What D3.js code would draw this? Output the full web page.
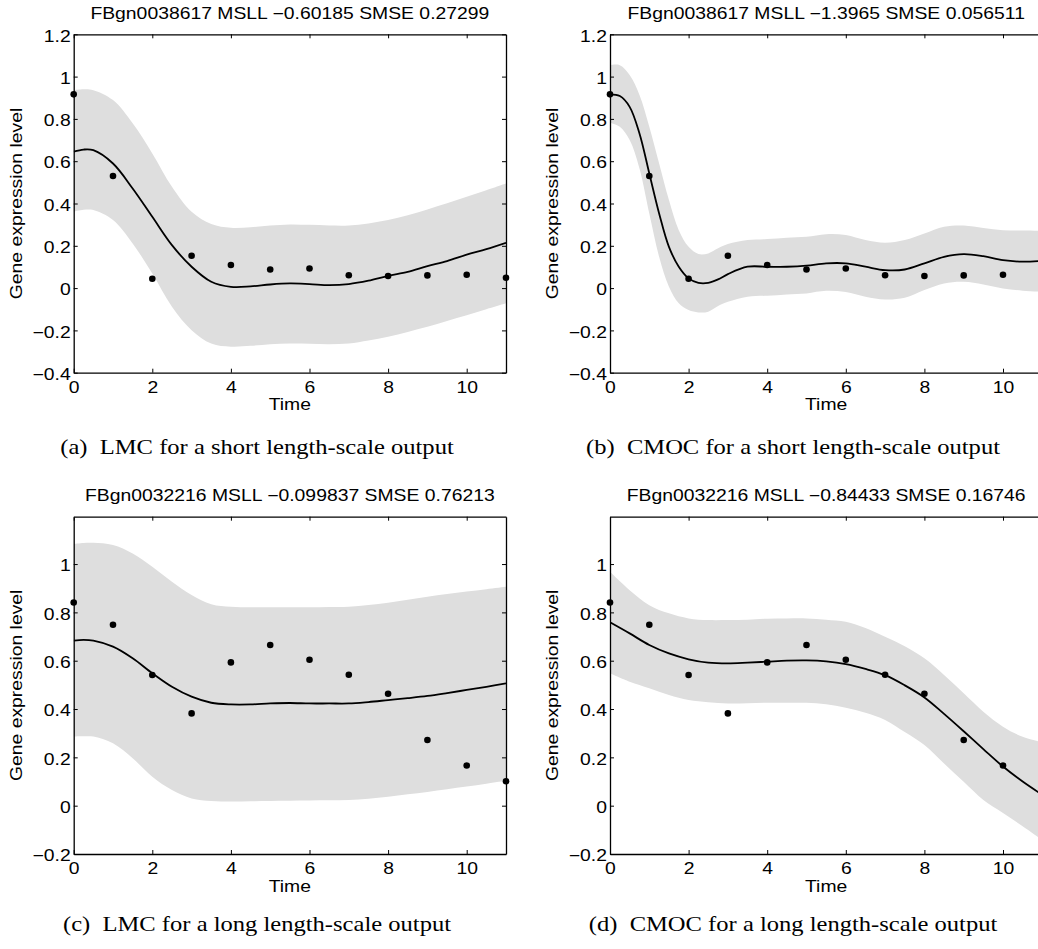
<!DOCTYPE html>
<html>
<head>
<meta charset="utf-8">
<script src="https://cdn.jsdelivr.net/npm/d3@7"></script>
<style>
  body { margin: 0; background: #fff; }
  svg { display: block; }
  text { font-family: "Liberation Sans", Arial, Helvetica, sans-serif; font-size: 16px; fill: #000; }
  text.caption { font-family: "Liberation Serif", "Times New Roman", serif; font-size: 21px; white-space: pre; }
</style>
</head>
<body>
<svg id="fig" width="1038" height="949"></svg>
<script>
// Observed expression levels at each time point
const timePoints = [0, 1, 2, 3, 4, 5, 6, 7, 8, 9, 10, 11];
const exprFBgn0038617 = [0.916, 0.530, 0.044, 0.153, 0.109, 0.088, 0.093, 0.061, 0.057, 0.060, 0.063, 0.049];
const exprFBgn0032216 = [0.841, 0.749, 0.541, 0.382, 0.593, 0.665, 0.604, 0.542, 0.463, 0.272, 0.166, 0.101];

// (a) LMC, FBgn0038617: predictive mean and confidence band
const gridA  = [0, 0.25, 0.5, 1, 1.5, 2, 2.5, 3, 3.5, 4, 4.5, 5, 5.5, 6, 6.5, 7, 7.5, 8, 8.5, 9, 9.5, 10, 10.5, 11];
const meanA  = [0.645, 0.655, 0.652, 0.589, 0.471, 0.337, 0.203, 0.101, 0.030, 0.006, 0.008, 0.017, 0.022, 0.019, 0.014, 0.019, 0.035, 0.058, 0.077, 0.104, 0.128, 0.158, 0.184, 0.214];
const upperA = [0.936, 0.940, 0.936, 0.889, 0.779, 0.637, 0.479, 0.361, 0.303, 0.285, 0.288, 0.296, 0.301, 0.299, 0.296, 0.296, 0.306, 0.322, 0.345, 0.372, 0.401, 0.432, 0.463, 0.495];
const lowerA = [0.361, 0.370, 0.369, 0.322, 0.211, 0.069, -0.088, -0.199, -0.262, -0.277, -0.273, -0.265, -0.262, -0.263, -0.265, -0.262, -0.248, -0.230, -0.207, -0.183, -0.155, -0.128, -0.100, -0.072];

// (b) CMOC, FBgn0038617
const gridB  = [0, 0.25, 0.5, 0.75, 1, 1.25, 1.5, 1.75, 2, 2.25, 2.5, 2.75, 3, 3.5, 4, 4.5, 5, 5.5, 6, 6.5, 7, 7.5, 8, 8.5, 9, 9.5, 10, 10.5, 11];
const meanB  = [0.916, 0.908, 0.857, 0.731, 0.542, 0.353, 0.195, 0.101, 0.046, 0.025, 0.025, 0.041, 0.066, 0.101, 0.101, 0.101, 0.106, 0.117, 0.117, 0.101, 0.085, 0.088, 0.117, 0.148, 0.161, 0.151, 0.132, 0.125, 0.129];
const upperB = [1.054, 1.054, 1.007, 0.913, 0.763, 0.589, 0.416, 0.274, 0.195, 0.161, 0.164, 0.188, 0.208, 0.227, 0.232, 0.238, 0.243, 0.255, 0.251, 0.227, 0.214, 0.227, 0.258, 0.290, 0.296, 0.284, 0.274, 0.272, 0.271];
const lowerB = [0.782, 0.763, 0.700, 0.566, 0.353, 0.148, 0.006, -0.072, -0.104, -0.115, -0.112, -0.085, -0.065, -0.041, -0.036, -0.030, -0.025, -0.013, -0.019, -0.041, -0.054, -0.046, -0.009, 0.022, 0.030, 0.017, -0.002, -0.012, -0.017];

// (c) LMC, FBgn0032216
const gridC  = [0, 0.25, 0.5, 1, 1.5, 2, 2.5, 3, 3.5, 4, 4.5, 5, 5.5, 6, 6.5, 7, 7.5, 8, 8.5, 9, 9.5, 10, 10.5, 11];
const meanC  = [0.683, 0.686, 0.683, 0.658, 0.610, 0.548, 0.492, 0.451, 0.426, 0.419, 0.419, 0.423, 0.425, 0.423, 0.423, 0.423, 0.429, 0.437, 0.445, 0.454, 0.466, 0.479, 0.492, 0.506];
const upperC = [1.083, 1.087, 1.088, 1.079, 1.044, 0.989, 0.927, 0.872, 0.834, 0.823, 0.821, 0.821, 0.821, 0.821, 0.822, 0.823, 0.831, 0.840, 0.852, 0.865, 0.876, 0.886, 0.896, 0.906];
const lowerC = [0.286, 0.287, 0.286, 0.258, 0.196, 0.120, 0.065, 0.030, 0.019, 0.017, 0.018, 0.019, 0.020, 0.021, 0.022, 0.023, 0.029, 0.037, 0.047, 0.057, 0.068, 0.079, 0.091, 0.103];

// (d) CMOC, FBgn0032216
const gridD  = [0, 0.5, 1, 1.5, 2, 2.5, 3, 3.5, 4, 4.5, 5, 5.5, 6, 6.5, 7, 7.5, 8, 8.5, 9, 9.5, 10, 10.5, 11];
const meanD  = [0.759, 0.713, 0.665, 0.630, 0.606, 0.592, 0.589, 0.592, 0.596, 0.600, 0.601, 0.597, 0.586, 0.566, 0.540, 0.498, 0.448, 0.380, 0.308, 0.234, 0.162, 0.100, 0.045];
const upperD = [0.968, 0.892, 0.830, 0.796, 0.775, 0.768, 0.768, 0.770, 0.774, 0.775, 0.775, 0.770, 0.761, 0.735, 0.699, 0.660, 0.610, 0.541, 0.465, 0.389, 0.327, 0.285, 0.262];
const lowerD = [0.548, 0.513, 0.486, 0.458, 0.437, 0.428, 0.423, 0.424, 0.426, 0.426, 0.426, 0.420, 0.405, 0.385, 0.355, 0.305, 0.251, 0.175, 0.099, 0.024, -0.030, -0.085, -0.142];

// Axis ticks
const xTicks = [0, 2, 4, 6, 8, 10];
const yTicksShort = [-0.4, -0.2, 0, 0.2, 0.4, 0.6, 0.8, 1, 1.2];
const yTicksLong = [-0.2, 0, 0.2, 0.4, 0.6, 0.8, 1];

// Labels
const titles = [
  "FBgn0038617 MSLL \u22120.60185 SMSE 0.27299",
  "FBgn0038617 MSLL \u22121.3965 SMSE 0.056511",
  "FBgn0032216 MSLL \u22120.099837 SMSE 0.76213",
  "FBgn0032216 MSLL \u22120.84433 SMSE 0.16746"
];
const captions = [
  "(a)  LMC for a short length-scale output",
  "(b)  CMOC for a short length-scale output",
  "(c)  LMC for a long length-scale output",
  "(d)  CMOC for a long length-scale output"
];
const xLabel = "Time";
const yLabel = "Gene expression level";

// ---- layout ----
const colLeft = [73.7, 610];
const rowTop = [34.3, 516.7];
const plotW = 432.3;
const rowH = [338.4, 337.3];
const rowYDomain = [[-0.4, 1.2], [-0.2, 1.196]];
const rowYTicks = [yTicksShort, yTicksLong];
const captionBase = [454, 931];
const captionCenter = [257, 793];
const SX = 1.21;   // horizontal stretch of the sans-serif labels
const SXC = 1.17;  // horizontal stretch of the serif captions

const panels = [
  { row: 0, col: 0, obs: exprFBgn0038617, grid: gridA, mean: meanA, upper: upperA, lower: lowerA },
  { row: 0, col: 1, obs: exprFBgn0038617, grid: gridB, mean: meanB, upper: upperB, lower: lowerB },
  { row: 1, col: 0, obs: exprFBgn0032216, grid: gridC, mean: meanC, upper: upperC, lower: lowerC },
  { row: 1, col: 1, obs: exprFBgn0032216, grid: gridD, mean: meanD, upper: upperD, lower: lowerD }
];

const svg = d3.select("#fig");
const fmtY = v => (v < 0 ? "\u2212" : "") + d3.format("~g")(Math.abs(v));

function styleAxis(sel, stripLabels) {
  sel.attr("font-size", null).attr("font-family", null);
  sel.select(".domain").attr("stroke", "#000").attr("stroke-width", 1.3);
  sel.selectAll(".tick line").attr("stroke", "#000").attr("stroke-width", 1);
  if (stripLabels) sel.selectAll(".tick text").remove();
  else sel.selectAll(".tick text").attr("transform", `scale(${SX},1)`);
}

panels.forEach((p, i) => {
  const w = plotW, h = rowH[p.row];
  const g = svg.append("g").attr("transform", `translate(${colLeft[p.col]},${rowTop[p.row]})`);
  const x = d3.scaleLinear().domain([0, 11]).range([0, w]);
  const y = d3.scaleLinear().domain(rowYDomain[p.row]).range([h, 0]);

  const clipId = "plotclip" + i;
  g.append("clipPath").attr("id", clipId)
    .append("rect").attr("width", w).attr("height", h);

  const series = p.grid.map((t, k) => ({ t, m: p.mean[k], hi: p.upper[k], lo: p.lower[k] }));
  const curve = d3.curveCatmullRom.alpha(0.5);
  const plot = g.append("g").attr("clip-path", `url(#${clipId})`);

  // confidence band
  plot.append("path").datum(series)
    .attr("fill", "#dedede")
    .attr("d", d3.area().x(d => x(d.t)).y0(d => y(d.lo)).y1(d => y(d.hi)).curve(curve));

  // predictive mean
  plot.append("path").datum(series)
    .attr("fill", "none").attr("stroke", "#000").attr("stroke-width", 1.8)
    .attr("d", d3.line().x(d => x(d.t)).y(d => y(d.m)).curve(curve));

  // axes box with inward ticks
  g.append("g").attr("transform", `translate(0,${h})`)
    .call(d3.axisBottom(x).tickValues(xTicks).tickSizeInner(-4).tickSizeOuter(0).tickPadding(9).tickFormat(d3.format("d")))
    .call(s => styleAxis(s, false));
  g.append("g")
    .call(d3.axisTop(x).tickValues(xTicks).tickSizeInner(-4).tickSizeOuter(0))
    .call(s => styleAxis(s, true));
  g.append("g")
    .call(d3.axisLeft(y).tickValues(rowYTicks[p.row]).tickSizeInner(-4).tickSizeOuter(0).tickPadding(3 / SX).tickFormat(fmtY))
    .call(s => styleAxis(s, false))
    .call(s => s.selectAll(".tick text").attr("dy", "0.42em"));
  g.append("g").attr("transform", `translate(${w},0)`)
    .call(d3.axisRight(y).tickValues(rowYTicks[p.row]).tickSizeInner(-4).tickSizeOuter(0))
    .call(s => styleAxis(s, true));

  // observations
  g.selectAll("circle.obs").data(timePoints.map((t, k) => ({ t, v: p.obs[k] })))
    .join("circle").attr("class", "obs")
    .attr("cx", d => x(d.t)).attr("cy", d => y(d.v)).attr("r", 3.3)
    .attr("fill", "#000");

  // title and axis labels
  g.append("text").attr("text-anchor", "middle")
    .attr("transform", `translate(${w / 2},${-15.3}) scale(${SX},1)`)
    .text(titles[i]);
  g.append("text").attr("text-anchor", "middle")
    .attr("transform", `translate(${w / 2},${h + 37.5}) scale(${SX},1)`)
    .text(xLabel);
  g.append("text").attr("text-anchor", "middle")
    .attr("transform", `translate(-52,${h / 2}) rotate(-90) scale(${SX},1)`)
    .text(yLabel);

  // sub-figure caption
  svg.append("text").attr("class", "caption").attr("text-anchor", "middle")
    .attr("transform", `translate(${captionCenter[p.col]},${captionBase[p.row]}) scale(${SXC},1)`)
    .text(captions[i]);
});
</script>
</body>
</html>
